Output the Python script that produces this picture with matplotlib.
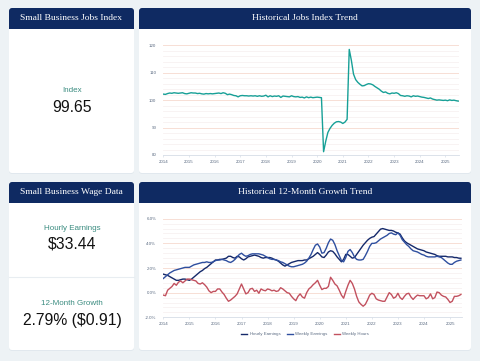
import numpy as np
import matplotlib
matplotlib.use("Agg")
import matplotlib.pyplot as plt
from matplotlib.patches import FancyBboxPatch, Rectangle
from matplotlib.ticker import FuncFormatter, MultipleLocator

# ---- data ----
jobs_start = 2014  # monthly, Jan 2014 onwards
jobs_index = [
    102.2, 102.1, 102.4, 102.6, 102.5, 102.7, 102.6, 102.5, 102.6, 102.7, 102.4, 102.3,
    102.5, 102.7, 102.6, 102.6, 102.4, 102.5, 102.3, 102.2, 102.4, 102.3, 102.4, 102.3,
    102.4, 102.5, 102.6, 102.4, 102.7, 102.5, 102.0, 102.2, 102.0, 101.7, 101.6, 101.2,
    101.6, 101.7, 101.6, 101.6, 101.5, 101.6, 101.5, 101.6, 101.4, 101.6, 101.4, 101.5,
    101.8, 101.2, 101.6, 101.3, 101.5, 101.4, 101.6, 101.0, 101.5, 101.4, 101.3, 101.2,
    101.6, 101.3, 101.2, 101.3, 101.0, 101.1, 100.8, 101.2, 100.9, 101.1, 100.9, 101.0,
    101.1, 101.0, 100.9, 81.2, 85.0, 88.2, 89.7, 90.8, 91.6, 92.1, 92.2, 92.0,
    91.5, 92.0, 93.0, 118.5, 114.5, 109.5, 107.5, 106.5, 105.8, 105.2, 105.3, 105.7,
    106.0, 105.9, 105.6, 105.0, 104.5, 104.0, 103.3, 102.8, 103.0, 102.5, 102.3, 102.6,
    102.5, 102.7, 102.4, 101.7, 101.6, 101.4, 101.6, 101.5, 101.2, 101.6, 101.4, 101.5,
    101.3, 101.1, 101.0, 100.8, 100.6, 100.8, 100.4, 100.2, 100.0, 100.1, 100.0, 99.9,
    100.0, 99.8, 100.1, 99.9, 100.0, 99.8, 99.65,
]

hourly_earnings = [
    1.5, 1.45, 1.4, 1.3, 1.2, 1.1, 1.0, 1.0, 1.05, 1.1, 1.1, 1.05,
    1.0, 1.1, 1.25, 1.4, 1.55, 1.7, 1.8, 1.95, 2.05, 2.2, 2.35, 2.5,
    2.65, 2.65, 2.7, 2.7, 2.75, 2.8, 2.95, 2.95, 2.85, 2.8, 2.95, 2.9,
    2.75, 2.65, 2.75, 2.9, 2.95, 3.0, 3.05, 3.0, 2.95, 2.85, 2.8, 2.85,
    2.85, 2.85, 2.8, 2.7, 2.65, 2.55, 2.4, 2.25, 2.15, 2.25, 2.35, 2.45,
    2.5, 2.55, 2.6, 2.6, 2.6, 2.65, 2.65, 2.75, 2.85, 2.95, 3.1, 3.25,
    3.1, 2.9, 2.85, 3.05, 3.3, 3.4, 3.35, 3.15, 2.9, 2.7, 2.5, 2.7,
    3.1, 3.1, 2.95, 2.8, 2.85, 3.1, 3.35, 3.6, 3.85, 4.05, 4.25, 4.4,
    4.5, 4.55, 4.75, 4.95, 5.15, 5.2, 5.15, 5.1, 5.05, 5.05, 5.0, 4.9,
    4.85, 4.75, 4.45, 4.2, 4.05, 3.95, 3.85, 3.75, 3.65, 3.55, 3.5, 3.45,
    3.4, 3.3, 3.25, 3.2, 3.15, 3.1, 3.0, 2.95, 2.95, 2.95, 2.95, 2.9,
    2.9, 2.9, 2.85, 2.85, 2.8, 2.79,
]

weekly_earnings = [
    1.15, 1.3, 1.45, 1.6, 1.7, 1.8, 1.85, 1.9, 1.95, 2.0, 2.05, 2.05,
    2.05, 2.15, 2.25, 2.3, 2.35, 2.4, 2.45, 2.45, 2.5, 2.45, 2.45, 2.5,
    2.6, 2.65, 2.65, 2.7, 2.65, 2.6, 2.5, 2.45, 2.55, 2.7, 2.9, 3.1,
    3.2, 3.05, 2.95, 3.0, 3.1, 3.15, 3.15, 3.15, 3.15, 3.1, 3.05, 2.95,
    2.85, 2.75, 2.7, 2.7, 2.65, 2.6, 2.5, 2.45, 2.35, 2.25, 2.15, 2.1,
    2.1, 2.15, 2.2, 2.25, 2.3, 2.4, 2.55, 2.8, 3.1, 3.5, 3.85, 3.95,
    3.7, 3.2, 3.25, 3.6, 4.05, 4.35, 4.25, 3.9, 3.4, 3.0, 2.6, 2.5,
    2.85, 3.35, 3.5, 3.25, 2.9, 2.7, 2.65, 2.65, 2.7, 3.0, 3.35, 3.75,
    4.0, 4.0, 4.05, 4.2, 4.35, 4.45, 4.55, 4.65, 4.8, 4.85, 4.75, 4.7,
    4.85, 4.65, 4.3, 4.1, 3.9, 3.75, 3.55, 3.4, 3.35, 3.3, 3.2, 3.1,
    3.05, 2.95, 2.9, 2.9, 2.9, 2.9, 2.95, 2.9, 2.85, 2.7, 2.55, 2.4,
    2.3, 2.3, 2.45, 2.55, 2.6, 2.65,
]

weekly_hours = [
    -0.2, -0.25, 0.2, 0.35, 0.5, 0.75, 0.6, 0.85, 0.95, 0.8, 0.95, 1.1,
    1.1, 1.05, 1.0, 0.95, 0.75, 0.7, 0.8, 0.65, 0.45, 0.15, 0.0, 0.1,
    0.1, 0.3, 0.3, 0.05, -0.15, -0.45, -0.7, -0.6, -0.45, -0.3, -0.1, 0.3,
    0.7, 0.3, -0.1, 0.0, 0.3, 0.35, 0.1, 0.2, -0.05, 0.3, 0.2, 0.15,
    0.3, 0.25, 0.15, 0.2, 0.1, 0.15, 0.4, 0.3, 0.15, 0.0, -0.05, -0.3,
    -0.5, -0.65, -0.3, -0.1, -0.35, -0.45, 0.0, 0.3, 0.45, 0.65, 0.8, 1.0,
    0.6, 0.25, 0.35, 0.35, 0.5, 1.25, 1.0, 0.7, 0.55, 0.2, -0.2, -0.45,
    0.1, 0.6, 1.0, 0.75, 0.3, -0.3, -0.75, -0.95, -1.1, -0.95, -0.6, -0.2,
    -0.05, -0.15, -0.5, -0.6, -0.65, -0.7, -0.7, -0.35, 0.0, -0.15, -0.45, -0.35,
    -0.05, -0.4, -0.55, -0.3, -0.1, -0.05, -0.35, -0.55, -0.35, -0.2, -0.25, -0.25,
    -0.25, -0.5, -0.4, -0.1, -0.5, -0.4, 0.05, 0.0, -0.2, -0.3, -0.35, -0.55,
    -0.8, -0.7, -0.3, -0.3, -0.25, -0.15,
]

years = list(range(2014, 2026))

# ---- colours ----
BG = "#edf2f5"
NAVY = "#0f2a62"
TEAL = "#17a097"
LABEL = "#3b8c80"
HOURLY_C = "#15296a"
WEEKLY_C = "#2f4f9f"
HOURS_C = "#c2515f"
TICK_C = "#5b6b82"

W, H = 480, 361
fig = plt.figure(figsize=(W / 100, H / 100), dpi=100, facecolor=BG)

bg = fig.add_axes([0, 0, 1, 1], zorder=0)
bg.set_xlim(0, W)
bg.set_ylim(H, 0)
bg.axis("off")


def card(x0, y0, x1, y1, title):
    shadow = FancyBboxPatch((x0, y0 + 1), x1 - x0, y1 - y0,
                            boxstyle="round,pad=0,rounding_size=3",
                            fc="#e1e8ee", ec="none")
    bg.add_patch(shadow)
    bg.add_patch(FancyBboxPatch((x0, y0), x1 - x0, y1 - y0,
                                boxstyle="round,pad=0,rounding_size=3",
                                fc="white", ec="none"))
    bg.add_patch(FancyBboxPatch((x0, y0), x1 - x0, 20.5,
                                boxstyle="round,pad=0,rounding_size=3",
                                fc=NAVY, ec="none"))
    bg.add_patch(Rectangle((x0, y0 + 10), x1 - x0, 10.5, fc=NAVY, ec="none"))
    bg.text((x0 + x1) / 2, y0 + 10, title, color="white", ha="center", va="center",
            fontsize=6.8, family="Liberation Serif")


card(9, 8, 134, 173, "Small Business Jobs Index")
card(139, 8, 471, 173, "Historical Jobs Index Trend")
card(9, 182, 134, 350, "Small Business Wage Data")
card(139, 182, 471, 350, "Historical 12-Month Growth Trend")

# KPI texts
lab = dict(color=LABEL, ha="center", va="center", fontsize=5.8, family="Liberation Sans")
big = dict(color="#111111", ha="center", va="center", fontsize=11.3, family="Liberation Sans")
bg.text(72, 91, "Index", **lab)
bg.text(72, 107, "99.65", **big)
bg.text(72, 229, "Hourly Earnings", **lab)
bg.text(72, 244.5, "$33.44", **big)
bg.plot([9, 134], [276.7, 276.7], color="#e8edf1", lw=0.8)
bg.text(72, 303.5, "12-Month Growth", **lab)
bg.text(72, 320.5, "2.79% ($0.91)", **big)


def px_axes(x0, y0, x1, y1):
    return fig.add_axes([x0 / W, 1 - y1 / H, (x1 - x0) / W, (y1 - y0) / H], zorder=2)


def style(ax):
    ax.set_facecolor("none")
    for s in ["top", "right", "left"]:
        ax.spines[s].set_visible(False)
    ax.spines["bottom"].set_color("#d6dde7")
    ax.spines["bottom"].set_linewidth(0.6)
    ax.grid(True, which="major", axis="y", color="#f7dfd5", lw=0.7)
    ax.grid(True, which="minor", axis="y", color="#f6eeee", lw=0.5)
    ax.tick_params(axis="y", which="both", length=0, labelsize=3.2, colors=TICK_C, pad=5)
    ax.tick_params(axis="x", length=1.5, width=0.5, color="#d6dde7", labelsize=3.2,
                   colors=TICK_C, pad=2)
    ax.set_xticks(years)
    ax.set_xticklabels([str(y) for y in years])
    for t in ax.get_xticklabels() + ax.get_yticklabels():
        t.set_family("Liberation Sans")


# Jobs index chart
ax1 = px_axes(163.3, 45.3, 459, 155)
jx = [jobs_start + i / 12 for i in range(len(jobs_index))]
ax1.plot(jx, jobs_index, color=TEAL, lw=1.0)
ax1.set_ylim(80, 120)
ax1.set_xlim(2014, 2025.53)
ax1.set_yticks([80, 90, 100, 110, 120])
ax1.yaxis.set_minor_locator(MultipleLocator(2))
style(ax1)

# Growth chart
ax2 = px_axes(163.3, 218.7, 462.3, 317.3)
gx = [2014 + i / 12 for i in range(len(hourly_earnings))]
ax2.plot(gx, hourly_earnings, color=HOURLY_C, lw=1.0, label="Hourly Earnings")
ax2.plot(gx, weekly_earnings, color=WEEKLY_C, lw=1.0, label="Weekly Earnings")
ax2.plot(gx, weekly_hours, color=HOURS_C, lw=1.0, label="Weekly Hours")
ax2.set_ylim(-2, 6)
ax2.set_xlim(2014, 2025.47)
ax2.set_yticks([-2, 0, 2, 4, 6])
ax2.yaxis.set_minor_locator(MultipleLocator(0.4))
ax2.yaxis.set_major_formatter(FuncFormatter(lambda v, p: f"{v:.1f}%"))
style(ax2)
leg = ax2.legend(loc="center", bbox_to_anchor=(0.474, -0.172), ncol=3, frameon=False,
                 fontsize=3.2, handlelength=1.4, columnspacing=1.4, handletextpad=0.5,
                 labelcolor=TICK_C)
for t in leg.get_texts():
    t.set_family("Liberation Sans")

fig.savefig("out.png", dpi=100, facecolor=BG)
